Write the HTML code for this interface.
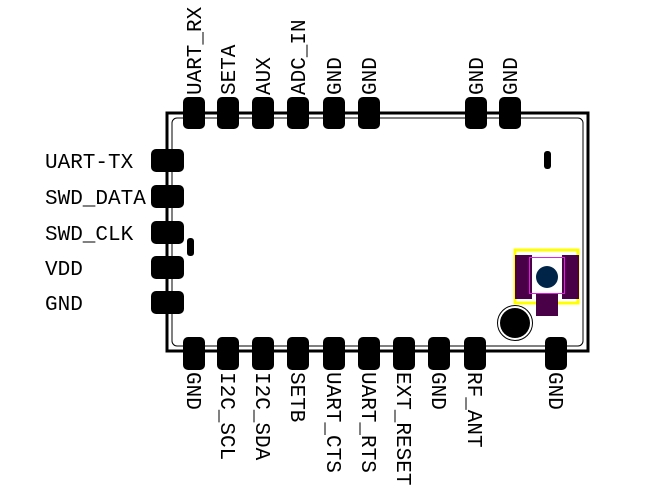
<!DOCTYPE html>
<html><head><style>
html,body{margin:0;padding:0;background:#fff;}
svg{display:block}
text{font-family:"Liberation Mono",monospace;font-size:21px;fill:#000;}
</style></head><body>
<svg width="667" height="492" viewBox="0 0 667 492" xmlns="http://www.w3.org/2000/svg">
<!-- board -->
<rect x="167" y="113" width="421" height="238" fill="none" stroke="#000" stroke-width="3"/>
<rect x="172" y="118" width="411" height="228" rx="5" fill="none" stroke="#000" stroke-width="1"/>
<!-- top pads -->
<g fill="#000">
<rect x="183" y="97" width="22" height="32" rx="5"/>
<rect x="217" y="97" width="22" height="32" rx="5"/>
<rect x="252" y="97" width="22" height="32" rx="5"/>
<rect x="287" y="97" width="22" height="32" rx="5"/>
<rect x="323" y="97" width="22" height="32" rx="5"/>
<rect x="358" y="97" width="22" height="32" rx="5"/>
<rect x="465" y="97" width="22" height="32" rx="5"/>
<rect x="499" y="97" width="22" height="32" rx="5"/>
<!-- left pads -->
<rect x="151" y="149" width="33" height="23" rx="5"/>
<rect x="151" y="185" width="33" height="23" rx="5"/>
<rect x="151" y="221" width="33" height="23" rx="5"/>
<rect x="151" y="256" width="33" height="23" rx="5"/>
<rect x="151" y="291" width="33" height="23" rx="5"/>
<!-- bottom pads -->
<rect x="183" y="337" width="22" height="33" rx="5"/>
<rect x="217" y="337" width="22" height="33" rx="5"/>
<rect x="252" y="337" width="22" height="33" rx="5"/>
<rect x="287" y="337" width="22" height="33" rx="5"/>
<rect x="323" y="337" width="22" height="33" rx="5"/>
<rect x="358" y="337" width="22" height="33" rx="5"/>
<rect x="393" y="337" width="22" height="33" rx="5"/>
<rect x="428" y="337" width="22" height="33" rx="5"/>
<rect x="464" y="337" width="22" height="33" rx="5"/>
<rect x="545" y="337" width="22" height="33" rx="5"/>
<!-- small marks -->
<rect x="544" y="151" width="7" height="18" rx="3"/>
<rect x="187" y="238" width="7" height="18" rx="3"/>
</g>
<!-- antenna -->
<rect x="515" y="250" width="63" height="53" fill="none" stroke="#ff0" stroke-width="3"/>
<rect x="515" y="255" width="17" height="44" fill="#4a0046"/>
<rect x="562" y="255" width="17" height="44" fill="#4a0046"/>
<rect x="536" y="294" width="22" height="22" fill="#4a0046"/>
<rect x="529.5" y="257.5" width="35" height="36" fill="none" stroke="#e020e0" stroke-width="1"/>
<circle cx="547" cy="277" r="11" fill="#002448"/>
<circle cx="515" cy="323" r="17.5" fill="#fff" stroke="#000" stroke-width="1"/>
<circle cx="515" cy="323" r="15" fill="#000"/>
<!-- left labels -->
<text x="45" y="168">UART-TX</text>
<text x="45" y="204">SWD_DATA</text>
<text x="45" y="240">SWD_CLK</text>
<text x="45" y="275">VDD</text>
<text x="45" y="310">GND</text>
<!-- top labels (rotated -90) -->
<g>
<text transform="translate(201,95) rotate(-90)">UART_RX</text>
<text transform="translate(235,95) rotate(-90)">SETA</text>
<text transform="translate(270,95) rotate(-90)">AUX</text>
<text transform="translate(305,95) rotate(-90)">ADC_IN</text>
<text transform="translate(341,95) rotate(-90)">GND</text>
<text transform="translate(376,95) rotate(-90)">GND</text>
<text transform="translate(483,95) rotate(-90)">GND</text>
<text transform="translate(517,95) rotate(-90)">GND</text>
</g>
<!-- bottom labels (rotated 90) -->
<g>
<text transform="translate(187,372) rotate(90)">GND</text>
<text transform="translate(221,372) rotate(90)">I2C_SCL</text>
<text transform="translate(256,372) rotate(90)">I2C_SDA</text>
<text transform="translate(291,372) rotate(90)">SETB</text>
<text transform="translate(327,372) rotate(90)">UART_CTS</text>
<text transform="translate(362,372) rotate(90)">UART_RTS</text>
<text transform="translate(397,372) rotate(90)">EXT_RESET</text>
<text transform="translate(432,372) rotate(90)">GND</text>
<text transform="translate(468,372) rotate(90)">RF_ANT</text>
<text transform="translate(549,372) rotate(90)">GND</text>
</g>
</svg>
</body></html>
